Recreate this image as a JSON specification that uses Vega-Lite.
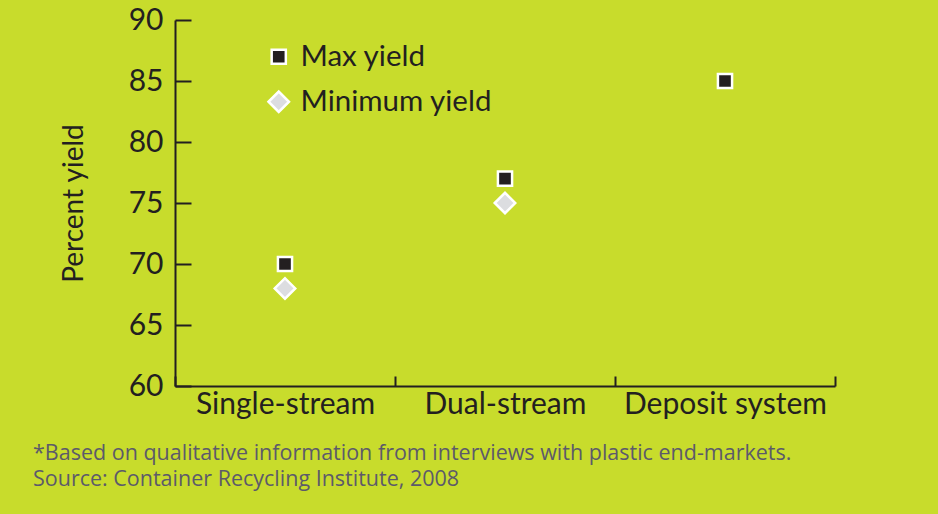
{
  "$schema": "https://vega.github.io/schema/vega-lite/v6.json",
  "width": 660,
  "height": 366,
  "autosize": "none",
  "padding": {"left": 175, "top": 20, "right": 103, "bottom": 128},
  "background": "#c8dc2c",
  "data": {
    "values": [
      {"system": "Single-stream", "series": "Max yield", "yield": 70},
      {"system": "Dual-stream", "series": "Max yield", "yield": 77},
      {"system": "Deposit system", "series": "Max yield", "yield": 85},
      {"system": "Single-stream", "series": "Minimum yield", "yield": 68},
      {"system": "Dual-stream", "series": "Minimum yield", "yield": 75}
    ]
  },
  "title": {
    "text": ["*Based on qualitative information from interviews with plastic end-markets.", "Source: Container Recycling Institute, 2008"],
    "orient": "bottom",
    "anchor": "start",
    "frame": "group",
    "dx": -142,
    "offset": 24,
    "font": "Open Sans",
    "fontSize": 21.5,
    "fontWeight": "normal",
    "color": "#5c5a6a",
    "lineHeight": 26,
    "limit": 0
  },
  "mark": {"type": "point", "filled": true, "stroke": "white", "strokeWidth": 2.5, "opacity": 1},
  "encoding": {
    "x": {
      "field": "system",
      "type": "nominal",
      "sort": ["Single-stream", "Dual-stream", "Deposit system"],
      "scale": {"type": "band", "paddingInner": 0, "paddingOuter": 0},
      "axis": {
        "title": null,
        "labelAngle": 0,
        "labelLimit": 0,
        "tickBand": "extent",
        "tickSize": -10,
        "labelPadding": 13,
        "labelFont": "Lato",
        "labelFontSize": 30,
        "labelColor": "#231f20",
        "domainColor": "#231f20",
        "domainWidth": 2,
        "tickColor": "#231f20",
        "tickWidth": 2
      }
    },
    "y": {
      "field": "yield",
      "type": "quantitative",
      "scale": {"domain": [60, 90], "nice": false, "zero": false},
      "axis": {
        "title": "Percent yield",
        "titleFont": "Lato",
        "titleFontSize": 28,
        "titleFontWeight": "normal",
        "titleColor": "#231f20",
        "titlePadding": 40,
        "values": [60, 65, 70, 75, 80, 85, 90],
        "grid": false,
        "tickSize": -16,
        "labelPadding": 28,
        "labelFont": "Lato",
        "labelFontSize": 30,
        "labelColor": "#231f20",
        "domainColor": "#231f20",
        "domainWidth": 2,
        "tickColor": "#231f20",
        "tickWidth": 2
      }
    },
    "shape": {
      "field": "series",
      "type": "nominal",
      "scale": {"domain": ["Max yield", "Minimum yield"], "range": ["square", "diamond"]},
      "legend": {
        "title": null,
        "orient": "none",
        "legendX": 89,
        "legendY": 22,
        "labelFont": "Lato",
        "labelFontSize": 29.5,
        "labelLimit": 0,
        "labelColor": "#231f20",
        "symbolStrokeColor": "white",
        "symbolStrokeWidth": 2.5,
        "rowPadding": 14,
        "labelOffset": 7,
        "symbolOpacity": 1
      }
    },
    "color": {
      "field": "series",
      "type": "nominal",
      "scale": {"domain": ["Max yield", "Minimum yield"], "range": ["#231f20", "#dcdde0"]}
    },
    "size": {
      "field": "series",
      "type": "nominal",
      "scale": {"domain": ["Max yield", "Minimum yield"], "range": [200, 420]}
    }
  },
  "config": {"view": {"stroke": null}}
}
